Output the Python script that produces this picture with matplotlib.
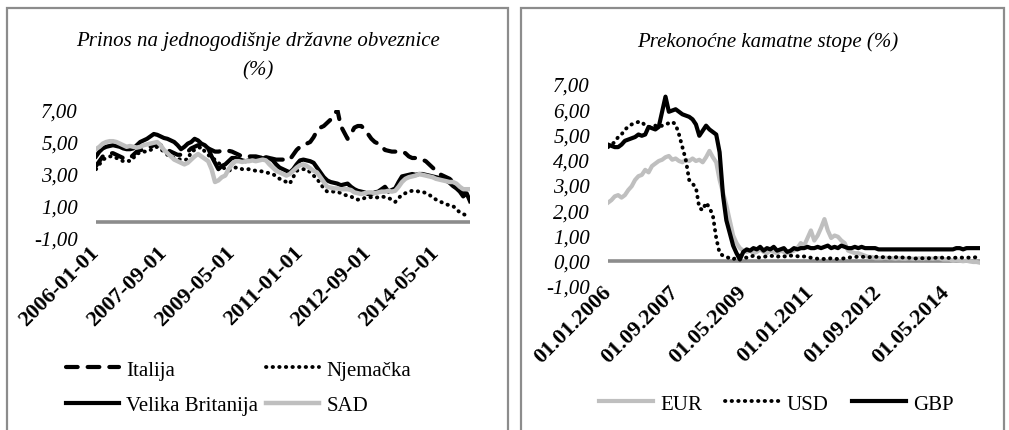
import matplotlib.pyplot as plt
import pandas as pd
from matplotlib.patches import Rectangle

# monthly data, 2006-01 .. 2015-03
dates = pd.date_range("2006-01-01", periods=111, freq="MS")

italija = [3.5, 3.8, 4.1, 4.2, 4.3, 4.3, 4.2, 4.1, 4.0, 4.0, 4.0,
           4.2, 4.4, 4.5, 4.5, 4.6, 4.7, 4.8, 4.9, 4.8, 4.6,
           4.5, 4.4, 4.3, 4.2, 4.2, 4.3, 4.4, 4.6, 4.7, 4.8,
           4.75, 4.7, 4.6, 4.5, 4.4, 4.4, 4.45, 4.5, 4.45, 4.4,
           4.3, 4.2, 4.1, 4.1, 4.1, 4.1, 4.1, 4.05, 4.0, 4.0,
           4.0, 3.95, 3.9, 3.9, 3.9, 3.9, 3.9, 4.2, 4.5, 4.7,
           4.8, 4.9, 5.0, 5.3, 5.7, 5.9, 6.0, 6.2, 6.4, 6.7,
           7.0, 6.0, 5.6, 5.2, 5.5, 5.9, 6.0, 6.0, 5.8, 5.5,
           5.2, 5.0, 4.9, 4.75, 4.5, 4.45, 4.4, 4.4, 4.4, 4.4,
           4.3, 4.1, 4.0, 4.0, 3.95, 3.9, 3.8, 3.6, 3.4, 3.2,
           3.0, 2.9, 2.8, 2.7, 2.5, 2.3, 2.1, 1.9, 1.7, 1.4]
njemacka = [3.3, 3.6, 3.9, 4.0, 4.1, 4.1, 4.0, 3.9, 3.8, 3.85, 3.8,
            4.0, 4.3, 4.3, 4.4, 4.4, 4.5, 4.6, 4.7, 4.55, 4.4,
            4.2, 4.1, 4.0, 3.95, 3.9, 3.9, 3.9, 4.4, 4.5, 4.6,
            4.7, 4.4, 4.2, 4.0, 3.9, 3.7, 3.5, 3.3, 3.2, 3.3,
            3.4, 3.4, 3.3, 3.3, 3.3, 3.25, 3.2, 3.2, 3.15, 3.1,
            3.05, 3.0, 2.85, 2.7, 2.6, 2.5, 2.4, 2.8, 3.2, 3.25,
            3.3, 3.3, 3.1, 2.9, 2.7, 2.4, 2.1, 1.9, 1.9, 1.9,
            1.9, 1.8, 1.7, 1.65, 1.6, 1.45, 1.4, 1.4, 1.5, 1.55,
            1.55, 1.5, 1.55, 1.6, 1.55, 1.5, 1.4, 1.25, 1.5, 1.7,
            1.8, 1.9, 1.95, 1.95, 1.9, 1.9, 1.8, 1.7, 1.55, 1.4,
            1.3, 1.2, 1.1, 1.05, 1.0, 0.8, 0.6, 0.5, 0.4, 0.3]
velika_britanija = [4.1, 4.4, 4.6, 4.7, 4.75, 4.8, 4.75, 4.7, 4.6, 4.55, 4.55,
                    4.6, 4.8, 5.0, 5.1, 5.2, 5.35, 5.5, 5.45, 5.35, 5.25,
                    5.2, 5.1, 5.0, 4.8, 4.55, 4.7, 4.9, 5.0, 5.2, 5.1,
                    4.9, 4.8, 4.6, 4.1, 3.7, 3.3, 3.5, 3.6, 3.8, 4.0,
                    4.0, 3.95, 3.85, 3.8, 3.85, 3.9, 3.95, 3.9, 3.95, 4.05,
                    4.0, 3.85, 3.6, 3.4, 3.3, 3.2, 3.1, 3.3, 3.6, 3.85,
                    3.9, 3.85, 3.8, 3.7, 3.4, 3.1, 2.8, 2.6, 2.5, 2.45,
                    2.4, 2.3, 2.35, 2.4, 2.2, 2.05, 1.95, 1.9, 1.85, 1.75,
                    1.75, 1.85, 1.9, 2.05, 2.2, 1.9, 2.0, 2.1, 2.5, 2.85,
                    2.9, 2.95, 3.0, 2.95, 3.0, 3.0, 2.95, 2.9, 2.85, 2.8,
                    2.75, 2.7, 2.6, 2.45, 2.25, 2.1, 1.9, 1.6, 1.8, 1.3]
sad = [4.55, 4.7, 4.9, 5.0, 5.05, 5.05, 5.0, 4.9, 4.8, 4.7, 4.75,
       4.7, 4.65, 4.7, 4.8, 4.85, 4.9, 4.95, 5.0, 4.8, 4.5,
       4.3, 4.1, 3.9, 3.8, 3.7, 3.6, 3.7, 3.9, 4.1, 4.25,
       4.1, 3.95, 3.8, 3.3, 2.5, 2.6, 2.8, 2.9, 3.3, 3.6,
       3.8, 3.8, 3.75, 3.8, 3.8, 3.85, 3.8, 3.85, 3.9, 3.85,
       3.6, 3.4, 3.2, 3.1, 3.0, 2.9, 3.0, 3.2, 3.4, 3.55,
       3.6, 3.5, 3.35, 3.2, 3.1, 2.8, 2.5, 2.2, 2.15, 2.1,
       2.1, 2.05, 2.05, 2.05, 2.0, 1.85, 1.8, 1.75, 1.8, 1.85,
       1.85, 1.8, 1.85, 1.9, 1.9, 1.95, 1.9, 1.95, 2.2, 2.5,
       2.7, 2.8, 2.85, 2.9, 3.0, 2.95, 2.9, 2.85, 2.8, 2.7,
       2.65, 2.6, 2.55, 2.5, 2.5, 2.4, 2.2, 2.05, 2.05, 2.05]

eur = [2.3, 2.4, 2.55, 2.6, 2.5, 2.6, 2.8, 2.95, 3.2, 3.35, 3.4,
       3.6, 3.5, 3.75, 3.85, 3.95, 4.0, 4.1, 4.15, 4.0, 4.05,
       3.95, 3.9, 4.0, 3.95, 4.05, 3.95, 4.0, 3.9, 4.1, 4.35,
       4.1, 3.9, 3.2, 2.7, 2.2, 1.6, 1.0, 0.7, 0.5, 0.4,
       0.35, 0.4, 0.3, 0.35, 0.45, 0.35, 0.3, 0.4, 0.35, 0.3,
       0.4, 0.35, 0.3, 0.35, 0.4, 0.5, 0.7, 0.6, 0.9, 1.2,
       0.8, 1.0, 1.3, 1.65, 1.2, 0.9, 1.0, 0.95, 0.8, 0.7,
       0.4, 0.35, 0.3, 0.3, 0.25, 0.2, 0.15, 0.15, 0.1, 0.1,
       0.1, 0.12, 0.1, 0.1, 0.08, 0.1, 0.08, 0.08, 0.1, 0.08,
       0.08, 0.1, 0.08, 0.1, 0.1, 0.08, 0.1, 0.1, 0.05, 0.05,
       0.05, 0.0, 0.02, 0.0, -0.02, 0.0, -0.03, -0.05, -0.05, -0.08]
usd = [4.5, 4.6, 4.7, 4.9, 5.0, 5.2, 5.3, 5.4, 5.45, 5.5, 5.5,
       5.35, 5.3, 5.3, 5.35, 5.3, 5.35, 5.4, 5.45, 5.5, 5.4,
       5.0, 4.5, 4.0, 3.2, 3.05, 2.9, 2.1, 2.0, 2.3, 2.1,
       1.8, 0.9, 0.3, 0.2, 0.15, 0.1, 0.05, 0.15, 0.2, 0.15,
       0.12, 0.15, 0.2, 0.15, 0.12, 0.15, 0.18, 0.2, 0.18, 0.15,
       0.2, 0.18, 0.15, 0.2, 0.2, 0.18, 0.15, 0.17, 0.15, 0.12,
       0.1, 0.08, 0.08, 0.07, 0.08, 0.1, 0.08, 0.07, 0.08, 0.1,
       0.12, 0.14, 0.15, 0.16, 0.16, 0.15, 0.14, 0.15, 0.16, 0.15,
       0.14, 0.15, 0.13, 0.12, 0.14, 0.15, 0.13, 0.12, 0.12, 0.1,
       0.09, 0.1, 0.1, 0.09, 0.1, 0.1, 0.12, 0.13, 0.12, 0.12,
       0.11, 0.12, 0.12, 0.13, 0.12, 0.13, 0.12, 0.13, 0.14, 0.12]
gbp = [4.6, 4.55, 4.5, 4.5, 4.6, 4.75, 4.8, 4.85, 4.9, 5.0, 4.95,
       5.0, 5.3, 5.25, 5.2, 5.3, 5.9, 6.5, 5.9, 5.95, 6.0,
       5.9, 5.8, 5.75, 5.7, 5.6, 5.4, 4.95, 5.15, 5.35, 5.2,
       5.1, 5.0, 4.3, 2.6, 1.6, 1.1, 0.6, 0.3, 0.05, 0.35,
       0.45, 0.4, 0.5, 0.45, 0.55, 0.4, 0.5, 0.45, 0.55, 0.4,
       0.45, 0.5, 0.35, 0.4, 0.5, 0.45, 0.5, 0.5, 0.55, 0.5,
       0.5, 0.55, 0.5, 0.55, 0.6, 0.5, 0.55, 0.5, 0.6, 0.55,
       0.5, 0.5, 0.55, 0.5, 0.55, 0.5, 0.5, 0.5, 0.5, 0.45,
       0.45, 0.45, 0.45, 0.45, 0.45, 0.45, 0.45, 0.45, 0.45, 0.45,
       0.45, 0.45, 0.45, 0.45, 0.45, 0.45, 0.45, 0.45, 0.45, 0.45,
       0.45, 0.45, 0.5, 0.5, 0.45, 0.5, 0.5, 0.5, 0.5, 0.5]

left_ticks = [-1, 1, 3, 5, 7]
right_ticks = [-1, 0, 1, 2, 3, 4, 5, 6, 7]
xtick_idx = [0, 20, 40, 60, 80, 100]

plt.rcParams["font.family"] = ["Liberation Serif", "DejaVu Serif"]

W, H = 1009, 431
fig = plt.figure(figsize=(W / 100, H / 100), dpi=100)

def fx(px):
    return px / W

def fy(py):
    return 1 - py / H

# panel frames
for x0, x1 in [(7, 508), (521, 1004)]:
    fig.patches.append(Rectangle((fx(x0), fy(440)), fx(x1 - x0), fy(9) - fy(440),
                                 transform=fig.transFigure, fill=False,
                                 edgecolor="#8c8c8c", lw=1.6, clip_on=False))

x = list(range(len(dates)))
dotted = (0, (0.1, 1.6))
grey = "#bfbfbf"

def fmt(v):
    return f"{v:.2f}".replace(".", ",")

def style(ax, ticks, xfmt, pad):
    for s in ax.spines.values():
        s.set_visible(False)
    ax.axhline(0, color="#8c8c8c", lw=2.6, zorder=0)
    ax.set_xlim(0, len(dates) - 1)
    ax.set_ylim(-1, 7)
    ax.set_yticks(ticks)
    ax.set_yticklabels([fmt(t) for t in ticks], fontsize=15, style="italic")
    ax.set_xticks(xtick_idx)
    ax.set_xticklabels([dates[i].strftime(xfmt) for i in xtick_idx],
                       rotation=45, ha="right", va="center",
                       rotation_mode="anchor", fontsize=16, fontweight="bold")
    ax.tick_params(length=0, axis="y", pad=13)
    ax.tick_params(length=0, axis="x", pad=pad)

# left panel
ax1 = fig.add_axes([fx(96), fy(239), fx(470 - 96), fy(111) - fy(239)])
l_it, = ax1.plot(x, italija, color="black", lw=3, ls=(0, (2.8, 2.4)),
                 dash_capstyle="round", label="Italija", zorder=1)
l_de, = ax1.plot(x, njemacka, color="black", lw=2.8, ls=dotted,
                 dash_capstyle="round", label="Njemačka", zorder=2)
l_uk, = ax1.plot(x, velika_britanija, color="black", lw=3,
                 label="Velika Britanija", zorder=3)
l_us, = ax1.plot(x, sad, color=grey, lw=3.2, label="SAD", zorder=4)
style(ax1, left_ticks, "%Y-%m-%d", 8)
# column-major order so rows read Italija/Njemačka, Velika Britanija/SAD
ax1.legend([l_it, l_uk, l_de, l_us],
           ["Italija", "Velika Britanija", "Njemačka", "SAD"],
           loc="upper left", bbox_to_anchor=(fx(66), fy(361)),
           bbox_transform=fig.transFigure, ncol=2, frameon=False,
           fontsize=15, handlelength=2.55, handletextpad=0.35,
           columnspacing=0.35, labelspacing=0.75, borderpad=0,
           borderaxespad=0)
fig.text(fx(258), fy(56), "Prinos na jednogodišnje državne obveznice\n(%)",
         ha="center", va="center", fontsize=15, style="italic",
         linespacing=1.7)

# right panel
ax2 = fig.add_axes([fx(608), fy(287), fx(980 - 608), fy(85) - fy(287)])
ax2.plot(x, eur, color=grey, lw=3, label="EUR", zorder=2)
ax2.plot(x, usd, color="black", lw=2.8, ls=dotted,
         dash_capstyle="round", label="USD", zorder=3)
ax2.plot(x, gbp, color="black", lw=3, label="GBP", zorder=4)
style(ax2, right_ticks, "%d.%m.%Y", 2)
ax2.legend(loc="upper left", bbox_to_anchor=(fx(599), fy(395)),
           bbox_transform=fig.transFigure, ncol=3, frameon=False,
           fontsize=15, handlelength=2.6, handletextpad=0.35,
           columnspacing=1.1, borderpad=0, borderaxespad=0)
fig.text(fx(768), fy(42), "Prekonoćne kamatne stope (%)",
         ha="center", va="center", fontsize=15, style="italic")

fig.savefig("out.png", dpi=100)
